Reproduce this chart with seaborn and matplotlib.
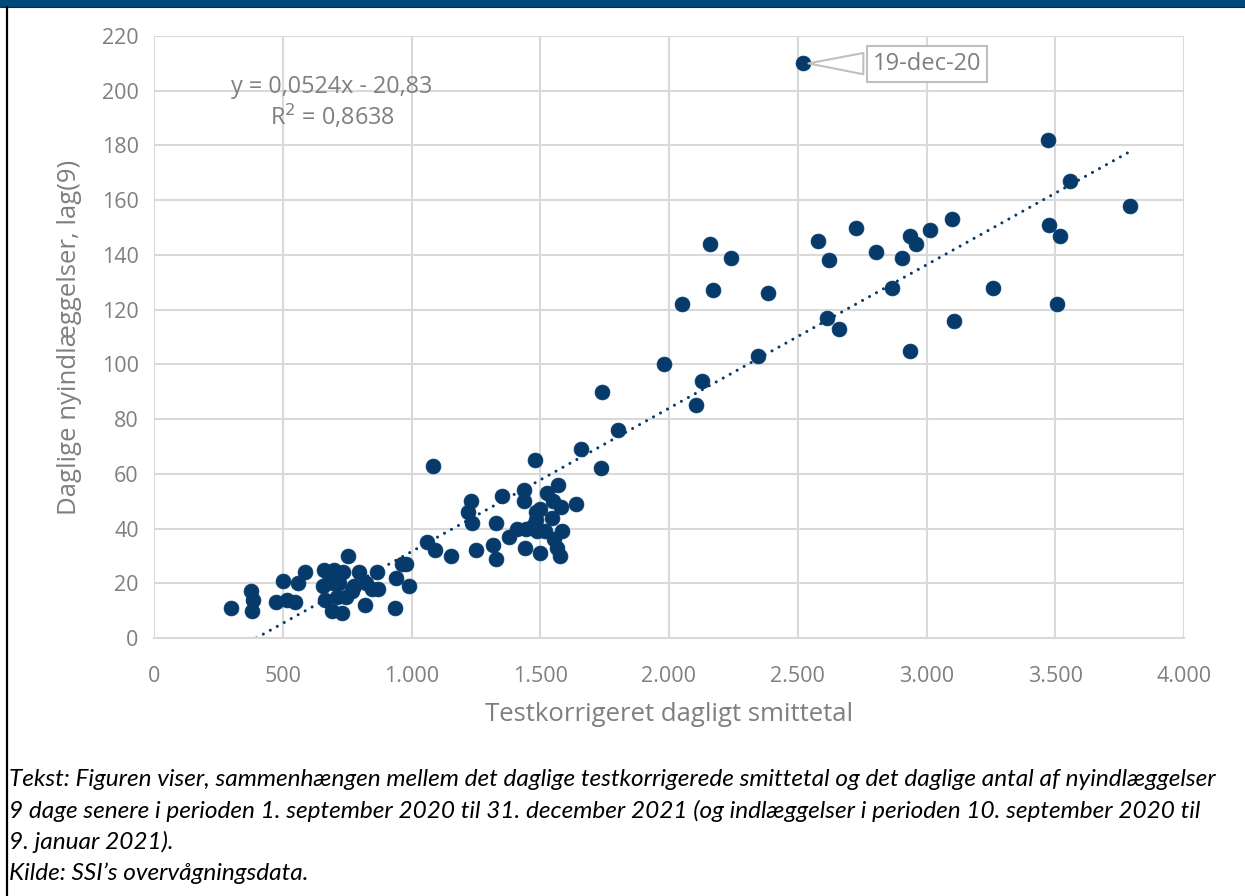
import numpy as np
import pandas as pd
import seaborn as sns
import matplotlib.pyplot as plt
from matplotlib.ticker import FuncFormatter
from matplotlib.patches import Rectangle
from matplotlib.lines import Line2D

# daily test-corrected infections vs. daily new admissions 9 days later
smittetal = [300, 375, 385, 380, 500, 475, 515, 548, 560, 585, 660, 700, 755, 657, 695,
             735, 720, 665, 690, 730, 768, 795, 825, 820, 865, 870, 935, 940, 990, 965,
             980, 745, 710, 775, 680, 845,
             1060, 1090, 1085, 1155, 1230, 1220, 1235, 1250, 1315, 1330, 1330, 1350, 1380,
             1410, 1435, 1435, 1440, 1445, 1480, 1485, 1485, 1486, 1500, 1520, 1525, 1550,
             1555, 1565, 1570, 1575, 1580, 1585, 1640, 1660, 1735, 1740, 1800, 1545, 1470,
             1500,
             1980, 2050, 2105, 2130, 2160, 2170, 2240, 2345, 2385, 2520, 2580, 2615, 2620,
             2660, 2725, 2805, 2865, 2905, 2935, 2935, 2960, 3015, 3100, 3105, 3260, 3472,
             3475, 3505, 3520, 3557, 3790]
indlaeggelser = [11, 17, 14, 10, 21, 13, 14, 13, 20, 24, 25, 25, 30, 19, 20,
                 24, 20, 14, 10, 9, 17, 24, 20, 12, 24, 18, 11, 22, 19, 27,
                 27, 15, 15, 19, 21, 18,
                 35, 32, 63, 30, 50, 46, 42, 32, 34, 29, 42, 52, 37,
                 40, 54, 50, 33, 40, 65, 46, 43, 39, 31, 39, 53, 50,
                 36, 33, 56, 30, 48, 39, 49, 69, 62, 90, 76, 44, 41,
                 47,
                 100, 122, 85, 94, 144, 127, 139, 103, 126, 210, 145, 117, 138,
                 113, 150, 141, 128, 139, 147, 105, 144, 149, 153, 116, 128, 182,
                 151, 122, 147, 167, 158]

# Excel linear trendline
slope = 0.0524
intercept = -20.83
r2 = 0.8638

outlier_label = "19-dec-20"
outlier_x = 2520
outlier_y = 210

x_ticks = [0, 500, 1000, 1500, 2000, 2500, 3000, 3500, 4000]
y_ticks = list(range(0, 221, 20))

caption = [
    "Tekst: Figuren viser, sammenhængen mellem det daglige testkorrigerede smittetal og det daglige antal af nyindlæggelser",
    "9 dage senere i perioden 1. september 2020 til 31. december 2021 (og indlæggelser i perioden 10. september 2020 til",
    "9. januar 2021).",
    "Kilde: SSI\u2019s overvågningsdata.",
]

navy = "#053A6B"
grey_txt = "#7F7F7F"
grid_col = "#D9D9D9"

sns.set_theme(style="white")
plt.rcParams["font.family"] = ["Open Sans", "DejaVu Sans"]

W, H = 1245, 896
fig = plt.figure(figsize=(W / 100, H / 100), dpi=100)
ax = fig.add_axes([154 / W, 1 - 638 / H, 1030 / W, 602 / H])

df = pd.DataFrame({"smittetal": smittetal, "indlaeggelser": indlaeggelser})
sns.scatterplot(data=df, x="smittetal", y="indlaeggelser", ax=ax, s=115,
                color=navy, edgecolor=navy, linewidth=0.5, zorder=3)

# trendline, clipped at y = 0 like Excel does
x0 = -intercept / slope
xt = np.array([x0, max(smittetal)])
ax.plot(xt, slope * xt + intercept, color=navy, lw=2.2,
        linestyle=(0, (0.01, 2.6)), dash_capstyle="round", zorder=2)

ax.set_xlim(0, 4000)
ax.set_ylim(0, 220)
ax.set_xticks(x_ticks)
ax.set_yticks(y_ticks)
ax.xaxis.set_major_formatter(FuncFormatter(lambda v, p: f"{int(v):,}".replace(",", ".")))
ax.grid(True, color=grid_col, lw=1.5)
ax.set_axisbelow(True)
for s in ["top", "right", "left"]:
    ax.spines[s].set_visible(False)
ax.spines["bottom"].set_color(grid_col)
ax.spines["bottom"].set_linewidth(1.5)
ax.tick_params(axis="both", length=0, labelsize=15.5, labelcolor=grey_txt)
ax.tick_params(axis="x", pad=20)
ax.tick_params(axis="y", pad=11)

ax.set_xlabel("Testkorrigeret dagligt smittetal", fontsize=18.5, color=grey_txt)
ax.set_ylabel("Daglige nyindlæggelser, lag(9)", fontsize=18.5, color=grey_txt)
ax.xaxis.set_label_coords(0.5, -0.106)
ax.yaxis.set_label_coords(-0.07, 0.5)

eq = f"y = {slope:.4f}x - {abs(intercept):.2f}".replace(".", ",")
r2_txt = f"R$^2$ = {r2:.4f}".replace(".", ",")
ax.text(691, 195.5, eq + "\n" + r2_txt, ha="center", va="center", fontsize=16.8,
        color=grey_txt, linespacing=1.15, zorder=4)

ax.annotate(outlier_label, xy=(outlier_x, outlier_y), xytext=(3002, 209.8),
            ha="center", va="center", fontsize=17, color=grey_txt, zorder=5,
            bbox=dict(boxstyle="square,pad=0.25", fc="white", ec="#BFBFBF", lw=1.5),
            arrowprops=dict(arrowstyle="wedge,tail_width=0.9,shrink_factor=0.5",
                            fc="white", ec="#BFBFBF", lw=1.5, shrinkB=4))

# frame decoration: blue top bar and black left border
fig.patches.append(Rectangle((0, 1 - 7 / H), 1, 7 / H, transform=fig.transFigure,
                             fc="#01497A", ec="none"))
fig.lines.append(Line2D([0, 1], [1 - 7.5 / H, 1 - 7.5 / H], transform=fig.transFigure,
                        color="#0A2A40", lw=0.8))
fig.lines.append(Line2D([7 / W, 7 / W], [0, 1 - 7 / H], transform=fig.transFigure,
                        color="black", lw=1.6))

cap_y = [779, 811, 842, 873]
for line, yy in zip(caption, cap_y):
    fig.text(9 / W, 1 - yy / H, line, ha="left", va="center", fontsize=17.6,
             style="italic", family=["Lato", "DejaVu Sans"], color="black")

fig.savefig("out.png", dpi=100)
